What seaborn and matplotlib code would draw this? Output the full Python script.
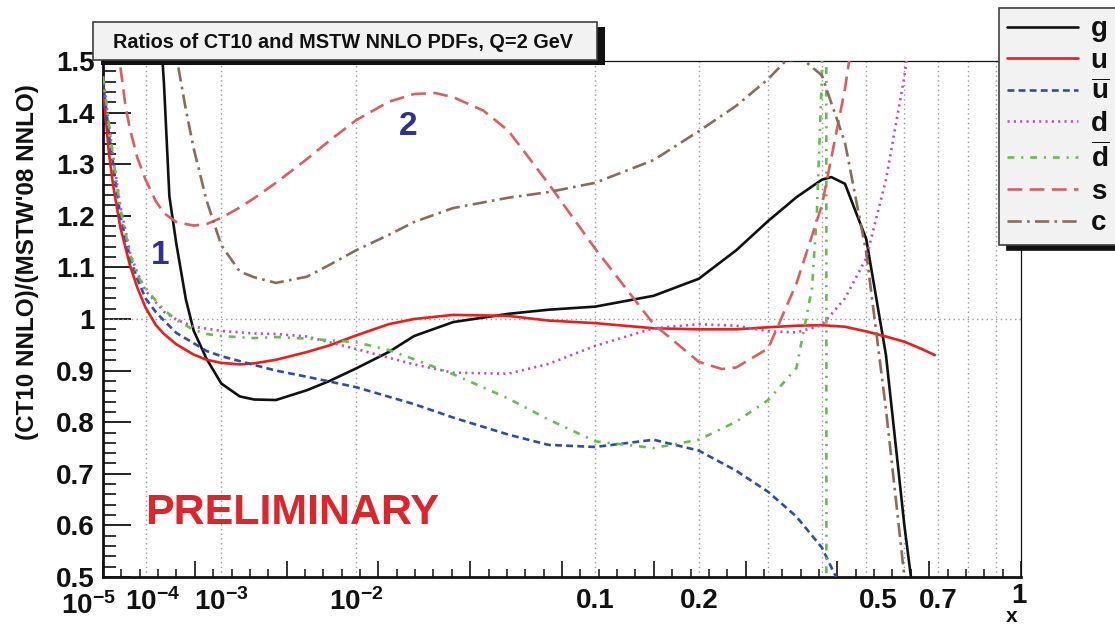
import numpy as np
import pandas as pd
import matplotlib
matplotlib.use("Agg")
import matplotlib.pyplot as plt
import matplotlib.transforms as mtransforms
from matplotlib.patches import Rectangle
from matplotlib.ticker import FixedLocator, MultipleLocator, NullFormatter
import seaborn as sns

# ---------------------------------------------------------------------------
# Ratio CT10 NNLO / MSTW'08 NNLO of parton distributions at Q = 2 GeV
# ---------------------------------------------------------------------------
x_g = [1.8e-4, 2.0e-4, 2.4e-4, 3.0e-4, 4.0e-4, 5.0e-4, 7.0e-4, 1e-3, 1.5e-3, 2e-3,
       3e-3, 5e-3, 7e-3, 1e-2, 1.5e-2, 2e-2, 3e-2, 5e-2, 7e-2, 0.1, 0.15, 0.2,
       0.25, 0.3, 0.35, 0.4, 0.42, 0.45, 0.5, 0.55, 0.6, 0.63]
r_g = [1.546, 1.456, 1.238, 1.146, 1.038, 0.977, 0.923, 0.875, 0.850, 0.844,
       0.843, 0.862, 0.880, 0.904, 0.936, 0.967, 0.994, 1.010, 1.018, 1.024, 1.045, 1.078,
       1.133, 1.190, 1.236, 1.270, 1.275, 1.262, 1.155, 0.930, 0.600, 0.440]

x_u = [1e-5, 1.5e-5, 2e-5, 3e-5, 5e-5, 7e-5, 1e-4, 1.5e-4, 2e-4, 3e-4, 5e-4, 7e-4,
       1e-3, 1.5e-3, 2e-3, 3e-3, 5e-3, 7e-3, 1e-2, 1.5e-2, 2e-2, 3e-2, 5e-2, 7e-2,
       0.1, 0.15, 0.2, 0.25, 0.3, 0.35, 0.4, 0.45, 0.5, 0.55, 0.6, 0.65, 0.69]
r_u = [1.45, 1.323, 1.256, 1.178, 1.103, 1.061, 1.022, 0.988, 0.971, 0.951, 0.931, 0.921,
       0.915, 0.912, 0.914, 0.921, 0.936, 0.949, 0.968, 0.990, 1.000, 1.008, 1.006, 0.997,
       0.992, 0.982, 0.980, 0.980, 0.984, 0.987, 0.988, 0.985, 0.976, 0.966, 0.956, 0.942, 0.930]

x_ubar = [1e-5, 1.5e-5, 2e-5, 3e-5, 5e-5, 7e-5, 1e-4, 1.5e-4, 2e-4, 3e-4, 5e-4, 7e-4,
          1e-3, 2e-3, 3e-3, 5e-3, 1e-2, 2e-2, 3e-2, 5e-2, 7e-2, 0.1, 0.15, 0.2, 0.25,
          0.3, 0.35, 0.4, 0.43, 0.44]
r_ubar = [1.46, 1.36, 1.297, 1.20, 1.118, 1.078, 1.040, 1.013, 0.997, 0.973, 0.953, 0.938,
          0.928, 0.911, 0.900, 0.888, 0.868, 0.835, 0.809, 0.776, 0.756, 0.752, 0.766, 0.745,
          0.706, 0.665, 0.617, 0.557, 0.500, 0.480]

x_d = [1e-5, 1.5e-5, 2e-5, 3e-5, 5e-5, 7e-5, 1e-4, 1.5e-4, 2e-4, 3e-4, 5e-4, 1e-3,
       2e-3, 3e-3, 5e-3, 1e-2, 1.5e-2, 2e-2, 3e-2, 5e-2, 7e-2, 0.1, 0.15, 0.2, 0.25,
       0.3, 0.35, 0.4, 0.45, 0.5, 0.55, 0.6, 0.61]
r_d = [1.47, 1.38, 1.31, 1.22, 1.128, 1.09, 1.055, 1.032, 1.014, 0.999, 0.985, 0.977,
       0.972, 0.971, 0.966, 0.942, 0.925, 0.912, 0.896, 0.894, 0.913, 0.948, 0.982, 0.990,
       0.987, 0.976, 0.974, 0.988, 1.040, 1.118, 1.27, 1.47, 1.52]

x_dbar = [1e-5, 1.5e-5, 2e-5, 3e-5, 5e-5, 7e-5, 1e-4, 1.5e-4, 2e-4, 3e-4, 5e-4, 7e-4,
          1e-3, 2e-3, 3e-3, 5e-3, 1e-2, 1.5e-2, 2e-2, 3e-2, 5e-2, 7e-2, 0.1, 0.15, 0.2,
          0.25, 0.3, 0.35, 0.38, 0.39, 0.40, 0.403, 0.407, 0.412, 0.45]
r_dbar = [1.47, 1.38, 1.31, 1.215, 1.125, 1.085, 1.06, 1.035, 1.018, 0.998, 0.979, 0.971,
          0.967, 0.963, 0.965, 0.962, 0.955, 0.940, 0.922, 0.893, 0.846, 0.805, 0.763, 0.750,
          0.766, 0.801, 0.843, 0.905, 1.06, 1.21, 1.47, 1.65, 20.0, -20.0, -3.0]

x_s = [2.5e-5, 3e-5, 4e-5, 5e-5, 7e-5, 1e-4, 1.5e-4, 2e-4, 3e-4, 5e-4, 7e-4, 1e-3,
       1.5e-3, 2e-3, 3e-3, 5e-3, 7e-3, 1e-2, 1.5e-2, 2e-2, 2.5e-2, 3e-2, 4e-2, 5e-2,
       7e-2, 0.1, 0.15, 0.2, 0.23, 0.25, 0.3, 0.35, 0.4, 0.45, 0.47]
r_s = [1.53, 1.49, 1.41, 1.367, 1.313, 1.27, 1.228, 1.205, 1.188, 1.181, 1.184, 1.196,
       1.216, 1.234, 1.264, 1.310, 1.346, 1.385, 1.421, 1.436, 1.438, 1.430, 1.404, 1.365,
       1.262, 1.136, 0.990, 0.917, 0.903, 0.906, 0.943, 1.069, 1.22, 1.446, 1.56]

x_c = [2.8e-4, 3e-4, 4e-4, 5e-4, 7e-4, 1e-3, 1.5e-3, 2e-3, 3e-3, 5e-3, 7e-3, 1e-2,
       1.5e-2, 2e-2, 3e-2, 5e-2, 7e-2, 0.1, 0.15, 0.2, 0.25, 0.3, 0.33, 0.36, 0.4, 0.45,
       0.5, 0.55, 0.6, 0.62]
r_c = [1.54, 1.51, 1.406, 1.33, 1.23, 1.143, 1.092, 1.081, 1.070, 1.082, 1.105, 1.133,
       1.163, 1.188, 1.215, 1.235, 1.246, 1.264, 1.308, 1.364, 1.413, 1.465, 1.50, 1.505,
       1.472, 1.342, 1.129, 0.825, 0.50, 0.37]

partons = ["g", "u", "ubar", "d", "dbar", "s", "c"]
legend_labels = ["g", "u", r"$\overline{\mathbf{u}}$", "d", r"$\overline{\mathbf{d}}$", "s", "c"]
series = {
    "g": (x_g, r_g), "u": (x_u, r_u), "ubar": (x_ubar, r_ubar), "d": (x_d, r_d),
    "dbar": (x_dbar, r_dbar), "s": (x_s, r_s), "c": (x_c, r_c),
}

x_tick_values = [1e-5, 1e-4, 1e-3, 1e-2, 0.1, 0.2, 0.5, 0.7, 1.0]
x_tick_labels = [r"$\mathbf{10^{-5}}$", r"$\mathbf{10^{-4}}$", r"$\mathbf{10^{-3}}$",
                 r"$\mathbf{10^{-2}}$", "0.1", "0.2", "0.5", "0.7", "1"]
y_tick_values = [0.5, 0.6, 0.7, 0.8, 0.9, 1.0, 1.1, 1.2, 1.3, 1.4, 1.5]
y_tick_labels = ["0.5", "0.6", "0.7", "0.8", "0.9", "1", "1.1", "1.2", "1.3", "1.4", "1.5"]
x_grid = [1e-4, 1e-3, 1e-2, 0.1, 0.2, 0.3, 0.4, 0.5, 0.6, 0.7, 0.8, 0.9]

df = pd.concat(
    [pd.DataFrame({"x": xs, "ratio": rs, "parton": p}) for p, (xs, rs) in series.items()],
    ignore_index=True,
)

# ---------------------------------------------------------------------------
# Styling
# ---------------------------------------------------------------------------
sns.set_theme(style="white")
plt.rcParams["font.family"] = ["Liberation Sans", "DejaVu Sans"]
plt.rcParams["font.weight"] = "bold"
plt.rcParams["mathtext.fontset"] = "custom"
plt.rcParams["mathtext.rm"] = "Liberation Sans:bold"
plt.rcParams["mathtext.bf"] = "Liberation Sans:bold"
plt.rcParams["mathtext.it"] = "Liberation Sans:bold"
plt.rcParams["mathtext.sf"] = "Liberation Sans:bold"
plt.rcParams["text.color"] = "#111111"
plt.rcParams["xtick.color"] = "#111111"
plt.rcParams["ytick.color"] = "#111111"
plt.rcParams["lines.solid_joinstyle"] = "round"
plt.rcParams["lines.dash_joinstyle"] = "round"

palette = {"g": "#111111", "u": "#f01c1c", "ubar": "#2b4fa6", "d": "#c04cbf",
           "dbar": "#64bf4c", "s": "#dc5f5f", "c": "#8c6c58"}
dash_map = {"g": "", "u": "", "ubar": (2.6, 1.6), "d": (0.8, 1.6),
            "dbar": (2.6, 2.6, 0.8, 2.6), "s": (5.6, 2.8), "c": (5.4, 2.0, 1.0, 2.0)}

W, H = 1115, 628
fig = plt.figure(figsize=(W / 100, H / 100), dpi=100)
rect = [103 / W, 1 - 577 / H, (1021 - 103) / W, (577 - 61) / H]
ax = fig.add_axes(rect)


def fwd(x):
    x = np.asarray(x, dtype=float)
    return np.sign(x) * np.abs(x) ** 0.25


def inv(u):
    u = np.asarray(u, dtype=float)
    return np.sign(u) * np.abs(u) ** 4


ax.set_xscale("function", functions=(fwd, inv))

sns.lineplot(data=df, x="x", y="ratio", hue="parton", style="parton",
             hue_order=partons, style_order=partons, palette=palette, dashes=dash_map,
             linewidth=1.9, sort=False, estimator=None, legend=False, ax=ax, zorder=3)
curve_lines = list(ax.get_lines())

ax.set_xlim(1e-5, 1.0)
ax.set_ylim(0.5, 1.5)
ax.set_xlabel("")
ax.set_ylabel("")

# dotted reference grid
for gx in x_grid:
    ax.axvline(gx, color="#9a9a9a", lw=1.0, ls=(0, (1, 2.4)), zorder=1)
ax.axhline(1.0, color="#9a9a9a", lw=1.0, ls=(0, (1, 2.4)), zorder=1)

# evenly spaced ticks along the x^(1/4) axis
u0 = 1e-5 ** 0.25
du = (1 - u0) / 10
ax.xaxis.set_major_locator(FixedLocator([(u0 + k * du) ** 4 for k in range(11)]))
ax.xaxis.set_minor_locator(FixedLocator([(u0 + k * du / 5) ** 4 for k in range(51)]))
ax.xaxis.set_major_formatter(NullFormatter())
ax.xaxis.set_minor_formatter(NullFormatter())
ax.tick_params(axis="x", which="major", direction="in", length=11.5, width=1.2,
               bottom=True, top=False, labelbottom=False)
ax.tick_params(axis="x", which="minor", direction="in", length=5.8, width=1.1,
               bottom=True, top=False)

ax.set_yticks(y_tick_values)
ax.set_yticklabels(y_tick_labels)
ax.yaxis.set_minor_locator(MultipleLocator(0.02))
ax.tick_params(axis="y", which="major", direction="in", length=20, width=1.3,
               left=True, right=False, labelsize=20, pad=6)
ax.tick_params(axis="y", which="minor", direction="in", length=9.5, width=1.2,
               left=True, right=False)

for side in ["left", "bottom"]:
    ax.spines[side].set_linewidth(2.0)
    ax.spines[side].set_color("#111111")
for side in ["top", "right"]:
    ax.spines[side].set_linewidth(0.9)
    ax.spines[side].set_color("#111111")

# x tick labels on an overlay axis sharing the same scale
ax_lab = fig.add_axes(rect, frameon=False)
ax_lab.set_xscale("function", functions=(fwd, inv))
ax_lab.set_xlim(1e-5, 1.0)
ax_lab.set_xticks(x_tick_values)
ax_lab.set_xticklabels(x_tick_labels)
ax_lab.xaxis.set_minor_locator(FixedLocator([]))
ax_lab.tick_params(axis="x", which="major", length=0, pad=8, labelsize=20)
ax_lab.yaxis.set_visible(False)
ax_lab.patch.set_visible(False)
# nudges (dx, dy) in pixels so neighbouring labels do not collide
label_shift_px = {0: (-15, -4), 1: (7, 0), 6: (12, 0), 8: (-2, 5)}
for i, lab in enumerate(ax_lab.get_xticklabels()):
    if i in label_shift_px:
        dx, dy = label_shift_px[i]
        lab.set_transform(lab.get_transform()
                          + mtransforms.ScaledTranslation(dx / 100, dy / 100,
                                                          fig.dpi_scale_trans))

# annotations
ax.text(1.74e-4, 1.124, "1", color="#2d3190", fontsize=24, fontweight="bold",
        ha="center", va="center", zorder=4)
ax.text(0.0187, 1.374, "2", color="#2d3190", fontsize=24, fontweight="bold",
        ha="center", va="center", zorder=4)
ax.text(0.046, 0.124, "PRELIMINARY", transform=ax.transAxes, color="#e0252a",
        fontsize=31, fontweight="bold", ha="left", va="center", zorder=4)

fig.text(28 / W, 1 - 262 / H, "(CT10 NNLO)/(MSTW'08 NNLO)", rotation=90,
         ha="center", va="center", fontsize=17.5, fontweight="bold")
fig.text(1012 / W, 1 - 617 / H, "x", ha="center", va="center", fontsize=15,
         fontweight="bold")

# title box with drop shadow
fig.add_artist(Rectangle((101 / W, 1 - 65 / H), 504 / W, 38 / H,
                         transform=fig.transFigure, facecolor="#111111",
                         edgecolor="none", zorder=5))
fig.add_artist(Rectangle((93 / W, 1 - 60 / H), 504 / W, 38 / H,
                         transform=fig.transFigure, facecolor="#f2f2f2",
                         edgecolor="#404040", linewidth=1.2, zorder=6))
fig.text(113 / W, 1 - 42 / H, "Ratios of CT10 and MSTW NNLO PDFs, Q=2 GeV",
         ha="left", va="center", fontsize=14.3, fontweight="bold", zorder=7)

# legend box
leg = fig.legend(handles=curve_lines, labels=legend_labels, loc="upper left",
                 bbox_to_anchor=(999 / W, 1 - 8 / H), frameon=True, fancybox=False,
                 facecolor="#f2f2f2", edgecolor="#404040", framealpha=1,
                 fontsize=20, handlelength=2.55, handletextpad=0.45,
                 labelspacing=0.2, borderpad=0.3, borderaxespad=0,
                 shadow={"ox": 6, "oy": -4, "color": "#111111", "alpha": 1})
leg.get_frame().set_linewidth(1.2)
leg.set_zorder(8)

fig.savefig("out.png", dpi=100)
